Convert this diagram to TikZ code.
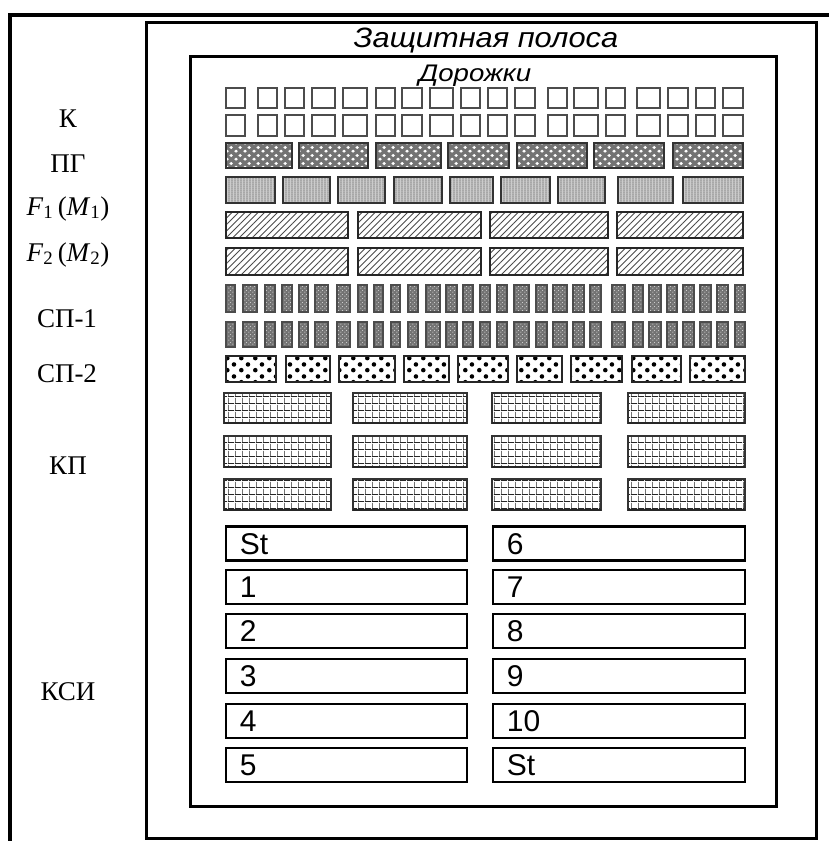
\documentclass[tikz,border=0pt]{standalone}
\usepackage{fontspec}
\setmainfont{Liberation Serif}
\newfontfamily\arialf{Liberation Sans}
\usetikzlibrary{patterns}

\pgfdeclarepatternformonly{pgmesh}{\pgfqpoint{0pt}{0pt}}{\pgfqpoint{9pt}{8pt}}{\pgfqpoint{9pt}{8pt}}{%
  \pgfpathellipse{\pgfqpoint{2.25pt}{2pt}}{\pgfqpoint{2pt}{0pt}}{\pgfqpoint{0pt}{1.7pt}}%
  \pgfpathellipse{\pgfqpoint{6.75pt}{6pt}}{\pgfqpoint{2pt}{0pt}}{\pgfqpoint{0pt}{1.7pt}}%
  \pgfusepath{fill}}
\pgfdeclarepatternformonly{vstripes}{\pgfqpoint{0pt}{0pt}}{\pgfqpoint{2.5pt}{2pt}}{\pgfqpoint{2.5pt}{2pt}}{%
  \pgfsetlinewidth{0.9pt}\pgfpathmoveto{\pgfqpoint{1.25pt}{-0.5pt}}\pgfpathlineto{\pgfqpoint{1.25pt}{2.5pt}}\pgfusepath{stroke}}
\pgfdeclarepatternformonly{diagl}{\pgfqpoint{-1pt}{-1pt}}{\pgfqpoint{7.5pt}{7.5pt}}{\pgfqpoint{6.5pt}{6.5pt}}{%
  \pgfsetlinewidth{1pt}\pgfpathmoveto{\pgfqpoint{0pt}{0pt}}\pgfpathlineto{\pgfqpoint{6.6pt}{6.6pt}}\pgfusepath{stroke}}
\pgfdeclarepatternformonly{bigdots}{\pgfqpoint{0pt}{0pt}}{\pgfqpoint{14pt}{12pt}}{\pgfqpoint{14pt}{12pt}}{%
  \pgfpathcircle{\pgfqpoint{3.5pt}{3pt}}{2.4pt}\pgfpathcircle{\pgfqpoint{10.5pt}{9pt}}{2.4pt}\pgfusepath{fill}}
\pgfdeclarepatternformonly{spdots}{\pgfqpoint{0pt}{0pt}}{\pgfqpoint{4pt}{4pt}}{\pgfqpoint{4pt}{4pt}}{%
  \pgfpathcircle{\pgfqpoint{1pt}{1pt}}{0.7pt}\pgfpathcircle{\pgfqpoint{3pt}{3pt}}{0.7pt}\pgfusepath{fill}}
\pgfdeclarepatternformonly{kpgrid}{\pgfqpoint{0pt}{0pt}}{\pgfqpoint{6.5pt}{6.5pt}}{\pgfqpoint{6.5pt}{6.5pt}}{%
  \pgfsetlinewidth{0.8pt}%
  \pgfpathmoveto{\pgfqpoint{0.4pt}{0pt}}\pgfpathlineto{\pgfqpoint{0.4pt}{6.5pt}}%
  \pgfpathmoveto{\pgfqpoint{0pt}{0.4pt}}\pgfpathlineto{\pgfqpoint{6.5pt}{0.4pt}}\pgfusepath{stroke}}

\tikzset{
  frame/.style={line width=3pt, draw=black},
  sq/.style={draw=black!70, line width=2pt, fill=white},
  pgbox/.style={draw=black!80, line width=1.8pt, preaction={fill=black!55}, pattern=pgmesh, pattern color=white},
  fonebox/.style={draw=black!80, line width=1.8pt, preaction={fill=black!20}, pattern=vstripes, pattern color=black!60},
  ftwobox/.style={draw=black!85, line width=1.8pt, pattern=diagl, pattern color=black!70},
  sponebox/.style={draw=black!70, line width=1.3pt, preaction={fill=black!55}, pattern=spdots, pattern color=white!80!black},
  sptwobox/.style={draw=black!85, line width=1.8pt, pattern=bigdots, pattern color=black},
  kpbox/.style={draw=black!80, line width=1.4pt, pattern=kpgrid, pattern color=black!85},
  ksibox/.style={draw=black, line width=2.5pt, inner sep=0pt},
  lbl/.style={font=\fontsize{27}{29}\selectfont, inner sep=0pt, anchor=base},
  num/.style={font=\arialf\fontsize{30}{32}\selectfont, anchor=base west, inner sep=0pt},
  ttl/.style={font=\arialf\itshape\fontsize{28}{30}\selectfont, anchor=base, inner sep=0pt},
}

\begin{document}
\begin{tikzpicture}[x=1pt,y=-1pt]
\useasboundingbox (0,0) rectangle (829,841);
\clip (0,0) rectangle (829,841);
% frames
\draw[line width=3.2pt] (10,900) -- (10,15) -- (900,15);
\draw[frame] (146,22) rectangle (816,838);
\draw[frame] (190,56) rectangle (776,806);
\node[ttl] (title) at (486,47) {\scalebox{1.1}[1]{Защитная полоса}};
\node[ttl, font=\arialf\itshape\fontsize{24}{26}\selectfont] (tracks) at (475,81) {\scalebox{1.15}[1]{Дорожки}};
% left labels
\node[lbl] (lK) at (68,127) {К};
\node[lbl] (lPG) at (68,172) {ПГ};
\node[lbl] (lF1) at (68,215) {\textit{F}\textsubscript{1}\,(\textit{M}\textsubscript{1})};
\node[lbl] (lF2) at (68,261) {\textit{F}\textsubscript{2}\,(\textit{M}\textsubscript{2})};
\node[lbl] (lSP1) at (67,327) {СП-1};
\node[lbl] (lSP2) at (67,382) {СП-2};
\node[lbl] (lKP) at (68,474) {КП};
\node[lbl] (lKSI) at (68,700) {КСИ};
% K squares
\foreach \a/\b in {226/245,258/277,285/304,312/335,343/367,376/395,402/422,430/453,461/480,488/507,515/535,548/567,574/598,606/625,637/660,668/688,696/715,723/743}{
  \draw[sq] (\a,88) rectangle (\b,108);
  \draw[sq] (\a,115) rectangle (\b,136);
}
% PG
\foreach \a/\b in {226/292,299/368,376/441,448/509,517/587,594/664,673/743}{
  \draw[pgbox] (\a,143) rectangle (\b,168);
}
% F1
\foreach \a/\b in {226/275,283/330,338/385,394/442,450/493,501/550,558/605,618/673,683/743}{
  \draw[fonebox] (\a,177) rectangle (\b,203);
}
% F2
\foreach \a/\b in {226/348,358/481,490/608,617/743}{
  \draw[ftwobox] (\a,212) rectangle (\b,238);
  \draw[ftwobox] (\a,248) rectangle (\b,275);
}
% SP-1
\foreach \a/\b in {226/235,243/257,265/275,282/292,299/308,315/328,337/350,358/367,374/383,391/400,408/418,426/440,446/457,463/473,480/490,497/507,514/529,536/547,553/567,573/584,590/601,612/625,633/643,649/661,667/677,683/694,700/711,717/728,735/745}{
  \draw[sponebox] (\a,285) rectangle (\b,312);
  \draw[sponebox] (\a,322) rectangle (\b,347);
}
% SP-2
\foreach \a/\b in {226/276,286/330,339/395,404/449,458/508,517/562,571/622,632/681,690/745}{
  \draw[sptwobox] (\a,356) rectangle (\b,382);
}
% KP
\foreach \a/\b in {224/331,353/467,492/601,628/745}{
  \foreach \t/\u in {393/423,436/467,479/510}{
    \draw[kpbox] (\a,\t) rectangle (\b,\u);
    \draw[line width=2.6pt, black!85] (\a,\u) -- (\b,\u);
  }
}
% KSI
\foreach \n/\y/\tl/\tr in {1/543.5/St/6, 2/587/1/7, 3/631/2/8, 4/676/3/9, 5/721/4/10, 6/765/5/St}{
  \node[ksibox, minimum width=241pt, minimum height=34pt] (kl\n) at (346.5,\y) {};
  \node[ksibox, minimum width=252pt, minimum height=34pt] (kr\n) at (619,\y) {};
  \node[num] (tl\n) at ([xshift=15pt,yshift=-10.5pt]kl\n.west) {\tl};
  \node[num] (tr\n) at ([xshift=15pt,yshift=-10.5pt]kr\n.west) {\tr};
}
\end{tikzpicture}
\end{document}
